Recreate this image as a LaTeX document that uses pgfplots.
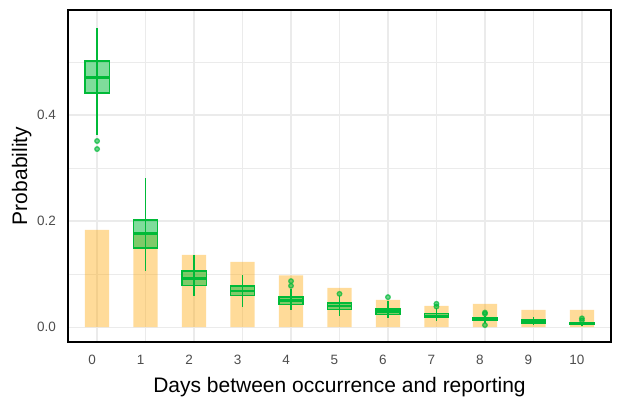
\documentclass[border=0pt]{standalone}
\usepackage{fontspec}
\setmainfont{Liberation Sans}
\usepackage{pgfplots}
\pgfplotsset{compat=1.18}
\usepgfplotslibrary{statistics}
\definecolor{ggreen}{RGB}{0,186,56}
\definecolor{barorange}{RGB}{255,165,0}
\definecolor{gridgray}{RGB}{235,235,235}
\definecolor{tickgray}{RGB}{77,77,77}

% one box: position, lower whisker, lower quartile, median, upper quartile, upper whisker, outliers
\newcommand{\bx}[7]{%
\addplot[ggreen, line width=1.3bp, fill=ggreen, fill opacity=0.5,
  mark=*, mark size=2.3bp,
  mark options={fill=ggreen, draw=ggreen, fill opacity=0.55, draw opacity=0.7},
  boxplot prepared={draw direction=y, draw position=#1, lower whisker=#2,
    lower quartile=#3, median=#4, upper quartile=#5, upper whisker=#6}]
  coordinates {#7};}

\begin{document}
\begin{tikzpicture}
\begin{axis}[
  width=543bp, height=332bp, scale only axis,
  xmin=-0.6, xmax=10.6, ymin=-0.028, ymax=0.598,
  xtick={0,...,10}, ytick={0,0.2,0.4}, minor ytick={0.1,0.3,0.5},
  grid=both,
  major grid style={gridgray, line width=1.3bp},
  minor grid style={gridgray, line width=0.7bp},
  major tick length=0, minor tick length=0,
  axis line style={black, line width=1.5bp},
  /pgf/number format/assume math mode=true,
  ticklabel style={font=\fontsize{13.5bp}{15bp}\selectfont, text=tickgray},
  yticklabel style={/pgf/number format/fixed, /pgf/number format/fixed zerofill,
    /pgf/number format/precision=1, anchor=east, inner sep=0pt, xshift=-12bp},
  xticklabel style={anchor=base, inner sep=0pt, yshift=-22bp, xshift=-5bp},
  xlabel={Days between occurrence and reporting},
  ylabel={Probability},
  label style={font=\fontsize{21bp}{24bp}\selectfont, inner sep=0pt},
  xlabel style={at={(axis description cs:0.5,-0.1536)}, anchor=base},
  ylabel style={at={(axis description cs:-0.0755,0.5)}, anchor=base},
  boxplot/draw direction=y,
  boxplot/box extend=0.5, boxplot/whisker extend=0,
  boxplot/every whisker/.style={draw=none},
  boxplot/every median/.style={draw=ggreen, line width=2.4bp},
]
% reported share per delay
\addplot[ybar, bar width=0.5, fill=barorange, fill opacity=0.4, draw=none]
  coordinates {(0,0.1836) (1,0.178) (2,0.1364) (3,0.1232) (4,0.0974)
    (5,0.0742) (6,0.0515) (7,0.0402) (8,0.044) (9,0.0326) (10,0.0326)};
% whiskers: lower whisker to upper whisker per delay
\addplot[ggreen, line width=1.8bp, no marks, unbounded coords=jump]
  coordinates {(0,0.3628) (0,0.5642) (0,nan)
    (1,0.1068) (1,0.2811) (1,nan)
    (2,0.0596) (2,0.1358) (2,nan)
    (3,0.0389) (3,0.0981) (3,nan)
    (4,0.0326) (4,0.0723) (4,nan)
    (5,0.0213) (5,0.0596) (5,nan)
    (6,0.0181) (6,0.0502) (6,nan)
    (7,0.0125) (7,0.0358) (7,nan)
    (8,0.0075) (8,0.0213) (8,nan)
    (9,0.0043) (9,0.02) (9,nan)
    (10,0.0028) (10,0.01)};
% estimated delay distribution
\bx{0}{0.3628}{0.4415}{0.4709}{0.5019}{0.5642}{(0,0.351) (0,0.3358)}
\bx{1}{0.1068}{0.149}{0.1766}{0.2019}{0.2811}{}
\bx{2}{0.0596}{0.0785}{0.0917}{0.1057}{0.1358}{}
\bx{3}{0.0389}{0.0596}{0.0679}{0.0774}{0.0981}{}
\bx{4}{0.0326}{0.0426}{0.0502}{0.0566}{0.0723}{(4,0.0868) (4,0.0779)}
\bx{5}{0.0213}{0.0332}{0.0396}{0.0458}{0.0596}{(5,0.0628)}
\bx{6}{0.0181}{0.0238}{0.0294}{0.0345}{0.0502}{(6,0.0566)}
\bx{7}{0.0125}{0.0181}{0.0213}{0.0251}{0.0358}{(7,0.044) (7,0.0389)}
\bx{8}{0.0075}{0.0125}{0.0151}{0.0175}{0.0213}{(8,0.0275) (8,0.0252) (8,0.0038)}
\bx{9}{0.0043}{0.0068}{0.0104}{0.0138}{0.02}{}
\bx{10}{0.0028}{0.0049}{0.0066}{0.0081}{0.01}{(10,0.0166) (10,0.0128)}
\end{axis}
\pgfresetboundingbox
\path ([shift={(-68bp,-63bp)}]current axis.south west)
  rectangle ([shift={(11bp,10bp)}]current axis.north east);
\end{tikzpicture}
\end{document}
